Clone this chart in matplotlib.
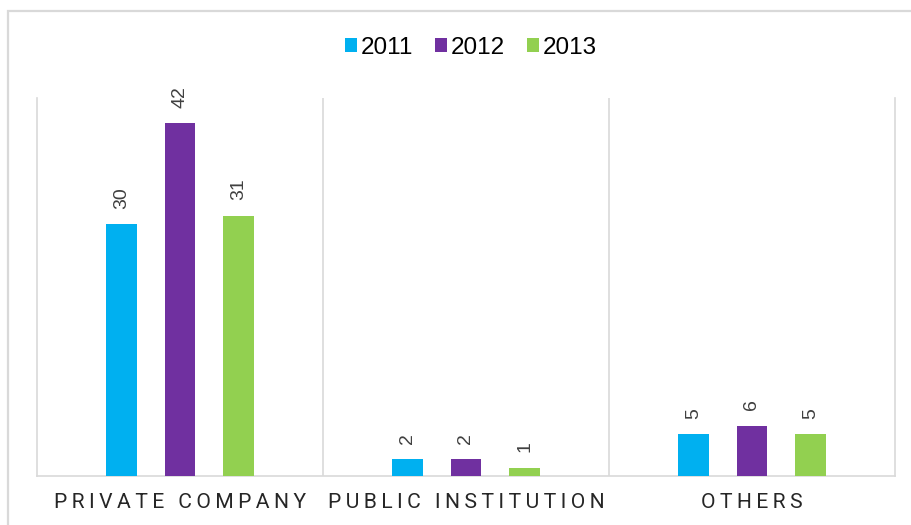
import matplotlib
matplotlib.use("Agg")
import matplotlib.pyplot as plt
from matplotlib.patches import Patch, Rectangle
import numpy as np

categories = ["PRIVATE COMPANY", "PUBLIC INSTITUTION", "OTHERS"]
years = ["2011", "2012", "2013"]
values_2011 = [30, 2, 5]
values_2012 = [42, 2, 6]
values_2013 = [31, 1, 5]
colors = ["#00B0F0", "#7030A0", "#92D050"]

series = [values_2011, values_2012, values_2013]

fig = plt.figure(figsize=(9.12, 5.25), dpi=100)
fig.patch.set_facecolor("white")

# outer border (partially cropped)
fig.add_artist(Rectangle((8 / 912, -0.1), 1.2, (525 - 11) / 525 + 0.1,
                         transform=fig.transFigure, fill=False,
                         edgecolor="#D9D9D9", linewidth=1.6))

ax = fig.add_axes([37 / 912, (525 - 476) / 525, (895 - 37) / 912, (476 - 98) / 525])
x = np.arange(len(categories))
offset = 0.205
width = 0.108
for i, (vals, col) in enumerate(zip(series, colors)):
    xs = x + (i - 1) * offset
    bars = ax.bar(xs, vals, width=width, color=col, zorder=3)
    for xi, v in zip(xs, vals):
        ax.annotate(str(v), (xi, v), xytext=(0, 11), textcoords="offset points",
                    rotation=90, ha="center", va="bottom", fontsize=14,
                    color="#404040", family=["Liberation Sans", "DejaVu Sans"])

ax.set_xlim(-0.5, 2.5)
ax.set_ylim(0, 45)
ax.set_yticks([])
ax.set_xticks([])
for b in [0.5, 1.5]:
    ax.axvline(b, color="#D9D9D9", linewidth=1.2, zorder=1)
for s in ["left", "right", "bottom"]:
    ax.spines[s].set_color("#D9D9D9")
    ax.spines[s].set_linewidth(1.2)
ax.spines["top"].set_visible(False)

for xi, cat in zip(x, categories):
    ax.text(xi, -0.07, "\u2009".join(cat), transform=ax.get_xaxis_transform(),
            ha="center", va="center", fontsize=15.2, color="#262626",
            family=["Roboto", "DejaVu Sans"])

handles = [Patch(facecolor=c, edgecolor="none") for c in colors]
fig.legend(handles, years, loc="center", bbox_to_anchor=(471 / 912, 1 - 48 / 525),
           ncol=3, frameon=False, handlelength=0.5, handleheight=0.5,
           handletextpad=0.15, columnspacing=0.9,
           prop={"family": ["Liberation Sans", "DejaVu Sans"], "size": 17.5})

fig.savefig("out.png", dpi=100, facecolor="white")
